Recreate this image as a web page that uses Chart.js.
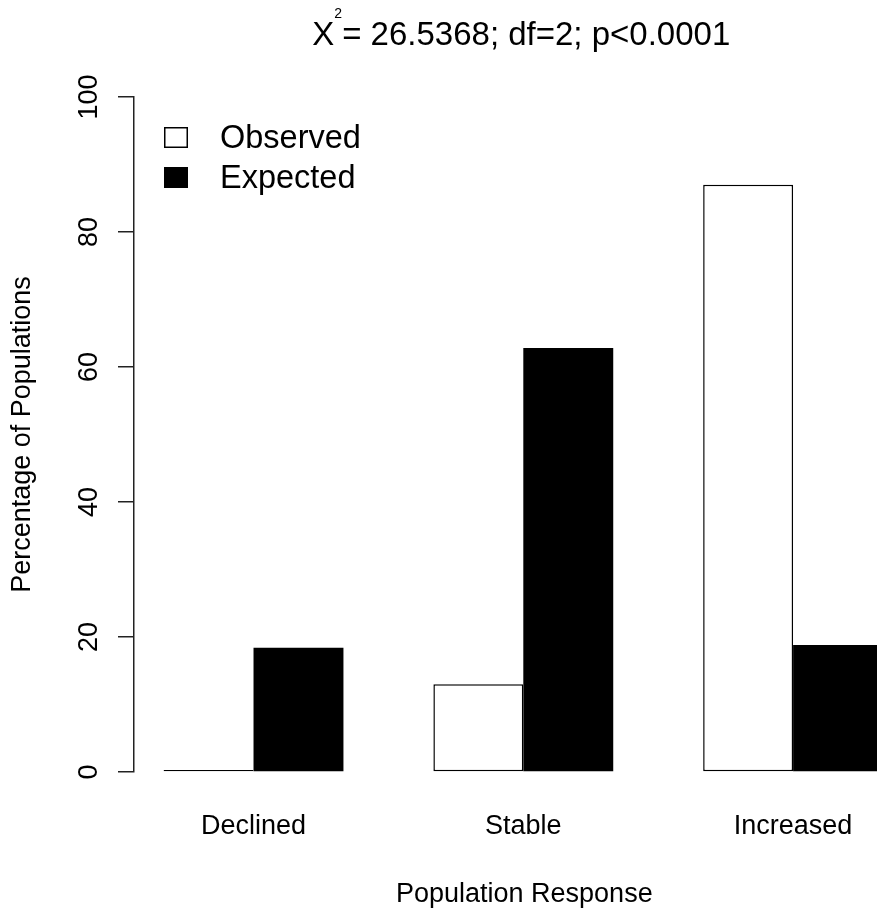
<!DOCTYPE html>
<html>
<head>
<meta charset="utf-8">
<title>Population Response</title>
<script src="https://cdn.jsdelivr.net/npm/chart.js@4.4.1/dist/chart.umd.min.js"></script>
<style>
  html, body { margin: 0; padding: 0; background: #ffffff; overflow: hidden; }
  #wrap { position: relative; width: 877px; height: 911px; }
</style>
</head>
<body>
<div id="wrap"><canvas id="chart"></canvas></div>
<script>
// Percentage of populations in each response class
const categories = ['Declined', 'Stable', 'Increased'];
const observed = [0, 13.0, 87.0];
const expected = [18.4, 62.8, 18.8];
const yTicks = [0, 20, 40, 60, 80, 100];
const seriesNames = ['Observed', 'Expected'];
const xTitle = 'Population Response';
const yTitle = 'Percentage of Populations';

// Chi-square test summary shown as the heading
const statBase = 'X';
const statSup = '2';
const statRest = '= 26.5368; df=2; p<0.0001';

const FONT = "'Liberation Sans', Arial, Helvetica, sans-serif";

// Heading with a superscript, x-axis title centred on the plot region,
// and an R-style boxed-square legend
const annotations = {
  id: 'annotations',
  afterDraw(chart) {
    const ctx = chart.ctx;
    const xs = chart.scales.x;
    const mid = xs.getPixelForValue(1);
    ctx.save();
    ctx.fillStyle = '#000';
    ctx.textBaseline = 'alphabetic';
    ctx.textAlign = 'left';

    // heading
    const big = '33px ' + FONT, small = '14px ' + FONT;
    ctx.font = big;
    const wBase = ctx.measureText(statBase).width;
    const wRest = ctx.measureText(statRest).width;
    ctx.font = small;
    const wSup = ctx.measureText(statSup).width;
    const total = wBase + wSup + wRest;
    let x = mid - 2 - total / 2;
    ctx.font = big;
    ctx.fillText(statBase, x, 45);
    x += wBase;
    ctx.font = small;
    ctx.fillText(statSup, x, 18);
    x += wSup;
    ctx.font = big;
    ctx.fillText(statRest, x, 45);

    // x-axis title
    ctx.font = '27px ' + FONT;
    ctx.textAlign = 'center';
    ctx.fillText(xTitle, mid + 1, 902);
    ctx.textAlign = 'left';

    // legend
    const area = chart.chartArea;
    const boxX = area.left + 30;
    const rows = [127, 167];
    ctx.font = '32.5px ' + FONT;
    chart.data.datasets.forEach((ds, i) => {
      const top = rows[i];
      ctx.fillStyle = ds.backgroundColor;
      ctx.fillRect(boxX, top, 24, 21);
      ctx.lineWidth = 1.5;
      ctx.strokeStyle = '#000';
      ctx.strokeRect(boxX + 0.75, top + 0.75, 22.5, 19.5);
      ctx.fillStyle = '#000';
      ctx.fillText(ds.label, boxX + 56, top + 21);
    });
    ctx.restore();
  }
};

new Chart(document.getElementById('chart'), {
  type: 'bar',
  data: {
    datasets: [
      {
        label: seriesNames[0],
        data: observed.map((v, i) => ({ x: i, y: v })),
        backgroundColor: '#ffffff',
        borderColor: '#000000',
        borderWidth: 1.5,
        borderSkipped: false,
        minBarLength: 2
      },
      {
        label: seriesNames[1],
        data: expected.map((v, i) => ({ x: i, y: v })),
        backgroundColor: '#000000',
        borderColor: '#000000',
        borderWidth: 0,
        borderSkipped: false
      }
    ]
  },
  options: {
    responsive: true,
    maintainAspectRatio: false,
    animation: false,
    devicePixelRatio: 1,
    layout: { padding: { top: 97, left: 0, right: 0, bottom: 0 } },
    datasets: { bar: { categoryPercentage: 2 / 3, barPercentage: 1 } },
    plugins: {
      legend: { display: false },
      title: { display: false },
      tooltip: { enabled: false }
    },
    scales: {
      x: {
        type: 'linear',
        bounds: 'data',
        offset: false,
        min: -0.443,
        max: 2.311,
        afterBuildTicks: (scale) => { scale.ticks = categories.map((c, i) => ({ value: i })); },
        afterFit: (scale) => {
          scale.height = 139;
          scale.paddingLeft = 0;
          scale.paddingRight = 0;
        },
        grid: { display: false, drawTicks: false, offset: false },
        border: { display: false },
        ticks: {
          autoSkip: false,
          includeBounds: false,
          maxRotation: 0,
          minRotation: 0,
          padding: 38,
          color: '#000',
          font: { family: FONT, size: 27 },
          callback: (v) => categories[v] ?? ''
        },
        title: { display: false }
      },
      y: {
        min: 0,
        max: 100,
        afterBuildTicks: (scale) => { scale.ticks = yTicks.map(v => ({ value: v })); },
        afterFit: (scale) => {
          scale.width = 134;
          scale.paddingTop = 0;
          scale.paddingBottom = 0;
        },
        grid: {
          display: true,
          drawOnChartArea: false,
          drawTicks: true,
          tickLength: 16,
          color: '#222',
          lineWidth: 1.5
        },
        border: { display: true, color: '#222', width: 1.5 },
        ticks: {
          autoSkip: false,
          minRotation: 90,
          maxRotation: 90,
          crossAlign: 'center',
          padding: 6,
          color: '#000',
          font: { family: FONT, size: 27 }
        },
        title: {
          display: true,
          text: yTitle,
          color: '#000',
          font: { family: FONT, size: 27 },
          padding: { top: 6, bottom: 0 }
        }
      }
    }
  },
  plugins: [annotations]
});
</script>
</body>
</html>
